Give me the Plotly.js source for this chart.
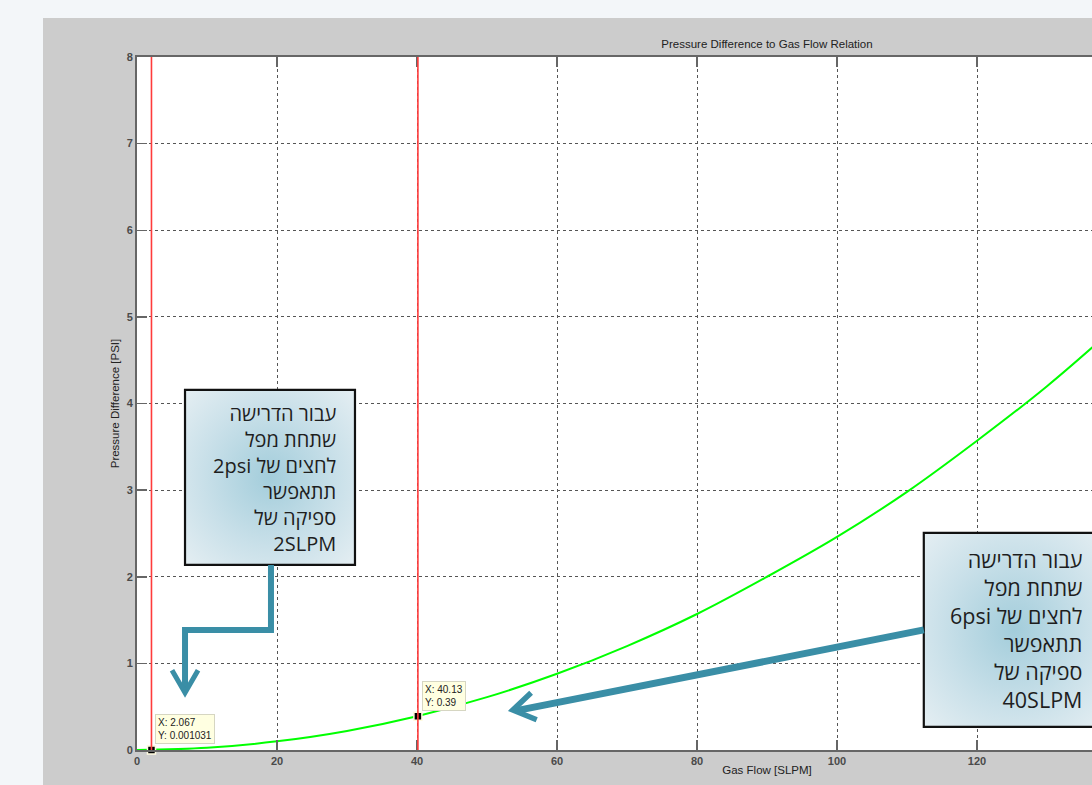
<!DOCTYPE html>
<html>
<head>
<meta charset="utf-8">
<script src="https://cdn.plot.ly/plotly-3.0.1.min.js"></script>
<style>
  html, body { margin: 0; padding: 0; background: #f3f6f9; width: 1092px; height: 785px; overflow: hidden; }
  #frame { position: absolute; left: 43px; top: 18px; width: 1049px; height: 767px; overflow: hidden; background: #cccccc; }
  #chart { width: 1420px; height: 767px; }
</style>
</head>
<body>
<div id="frame"><div id="chart"></div></div>
<script>
// ---- data ----
const flowSLPM = [0, 10, 20, 30, 40, 50, 60, 70, 80, 90, 100, 110, 120, 130, 140];
const pressurePSI = [0, 0.025, 0.1, 0.22, 0.39, 0.61, 0.88, 1.2, 1.57, 2.0, 2.46, 2.98, 3.57, 4.2, 4.9];
const tipX = [2.067, 40.13];
const tipY = [0.001031, 0.39];
const tipLabels = ['X: 2.067<br>Y: 0.001031', 'X: 40.13<br>Y: 0.39'];
const xTicks = [0, 20, 40, 60, 80, 100, 120];
const yTicks = [0, 1, 2, 3, 4, 5, 6, 7, 8];
const chartTitle = 'Pressure Difference to Gas Flow Relation';
const xTitle = 'Gas Flow [SLPM]';
const yTitle = 'Pressure Difference [PSI]';
const RLE = '\u202B', PDF = '\u202C';
const note1Lines = ['עבור הדרישה', 'שתחת מפל', 'לחצים של 2psi', 'תתאפשר', 'ספיקה של', '2SLPM'];
const note2Lines = ['עבור הדרישה', 'שתחת מפל', 'לחצים של 6psi', 'תתאפשר', 'ספיקה של', '40SLPM'];

const teal = '#3a8ea6';
const gradSvg = "<svg xmlns='http://www.w3.org/2000/svg' width='100' height='100' viewBox='0 0 100 100' preserveAspectRatio='none'>" +
  "<defs><radialGradient id='g' cx='50%' cy='50%' r='72%'><stop offset='0' stop-color='#a3cddb'/><stop offset='0.55' stop-color='#c9e0e9'/><stop offset='1' stop-color='#e6eff3'/></radialGradient></defs>" +
  "<rect width='100' height='100' fill='url(#g)'/></svg>";
const gradSrc = 'data:image/svg+xml;charset=utf-8,' + encodeURIComponent(gradSvg);

const rtl = lines => lines.map(s => /[\u0590-\u05FF]/.test(s) ? RLE + s + PDF : s).join('<br>');

const traces = [
  { x: flowSLPM, y: pressurePSI, type: 'scatter', mode: 'lines',
    line: { color: '#00ff00', width: 2, shape: 'spline' }, hoverinfo: 'skip' },
  { x: tipX, y: tipY, type: 'scatter', mode: 'markers',
    marker: { symbol: 'square', size: 8, color: '#000000', line: { color: '#fffbe0', width: 1.5 } },
    hoverinfo: 'skip', cliponaxis: false }
];

const box1 = { x0: 6.86, x1: 31.14, y0: 2.136, y1: 4.157 };
const box2 = { x0: 112.4, x1: 138.2, y0: 0.266, y1: 2.506 };

const shapes = [];
tipX.forEach(v => shapes.push({ type: 'line', xref: 'x', yref: 'paper', x0: v, x1: v, y0: 0, y1: 1,
  line: { color: '#ff3b3b', width: 1.6 }, layer: 'above' }));
[box1, box2].forEach(b => shapes.push({ type: 'rect', xref: 'x', yref: 'y', x0: b.x0, x1: b.x1, y0: b.y0, y1: b.y1,
  line: { color: '#111111', width: 2.2 }, fillcolor: 'rgba(0,0,0,0)', layer: 'above' }));
// arrow 1 (elbow)
shapes.push({ type: 'path', xref: 'x', yref: 'y', layer: 'above',
  path: 'M 19.14 2.136 L 19.14 1.386 L 6.86 1.386 L 6.86 0.68', line: { color: teal, width: 6 } });
shapes.push({ type: 'path', xref: 'x', yref: 'y', layer: 'above',
  path: 'M 5.0 0.92 L 6.86 0.66 L 8.72 0.92', line: { color: teal, width: 5 } });
// arrow 2 (diagonal)
shapes.push({ type: 'path', xref: 'x', yref: 'y', layer: 'above',
  path: 'M 112.4 1.386 L 54.2 0.455', line: { color: teal, width: 7 } });
shapes.push({ type: 'path', xref: 'x', yref: 'y', layer: 'above',
  path: 'M 56.3 0.66 L 53.7 0.462 L 57.1 0.35', line: { color: teal, width: 5.5 } });

const images = [box1, box2].map(b => ({ source: gradSrc, xref: 'x', yref: 'y', x: b.x0, y: b.y1,
  sizex: b.x1 - b.x0, sizey: b.y1 - b.y0, xanchor: 'left', yanchor: 'top', sizing: 'stretch', layer: 'above' }));

const noteFont = { family: 'Open Sans, Liberation Sans, DejaVu Sans, sans-serif', size: 20, color: '#1e1e1e' };
const annotations = [
  { xref: 'x', yref: 'y', x: 28.7, y: 4.06, xanchor: 'right', yanchor: 'top', align: 'right', showarrow: false,
    text: rtl(note1Lines), font: noteFont },
  { xref: 'x', yref: 'y', x: 135.3, y: 2.39, xanchor: 'right', yanchor: 'top', align: 'right', showarrow: false,
    text: rtl(note2Lines), font: Object.assign({}, noteFont, { size: 21.5 }) }
];
const tipShift = [[4, 6], [4, 5]];
tipX.forEach((v, i) => annotations.push({ xref: 'x', yref: 'y', x: v, y: tipY[i], xanchor: 'left', yanchor: 'bottom',
  xshift: tipShift[i][0], yshift: tipShift[i][1], showarrow: false, align: 'left', text: tipLabels[i],
  font: { family: 'Liberation Sans, Arial, sans-serif', size: 10, color: '#222' },
  bgcolor: '#ffffe1', bordercolor: '#d6d6c2', borderwidth: 1, borderpad: 2 }));

const labelFont = { family: 'Liberation Sans, Arial, sans-serif', size: 11.5, color: '#222222' };
const axisCommon = {
  showline: true, linecolor: '#666666', linewidth: 2, mirror: 'ticks',
  ticks: 'inside', ticklen: 10, tickwidth: 1.5, tickcolor: '#666666',
  showgrid: true, gridcolor: '#555555', gridwidth: 1, griddash: 'dot',
  zeroline: false, tickfont: { family: 'Liberation Sans, Arial, sans-serif', size: 11, color: '#4a4a4a', weight: 'bold' },
  fixedrange: true
};

const layout = {
  width: 1420, height: 767,
  margin: { l: 94, r: 66, t: 39, b: 35 },
  paper_bgcolor: '#cccccc', plot_bgcolor: '#ffffff',
  showlegend: false,
  title: { text: chartTitle, font: labelFont,
    xref: 'paper', x: 0.5, xanchor: 'center', yref: 'container', y: 0.966, yanchor: 'middle' },
  xaxis: Object.assign({}, axisCommon, { range: [0, 180], tickvals: xTicks, ticktext: xTicks.map(String),
    title: { text: xTitle, standoff: 0, font: labelFont } }),
  yaxis: Object.assign({}, axisCommon, { range: [0, 8], tickvals: yTicks, ticktext: yTicks.map(String),
    title: { text: yTitle, standoff: 5, font: labelFont } }),
  shapes: shapes, images: images, annotations: annotations
};

Plotly.newPlot('chart', traces, layout, { displayModeBar: false, staticPlot: true });
</script>
</body>
</html>
